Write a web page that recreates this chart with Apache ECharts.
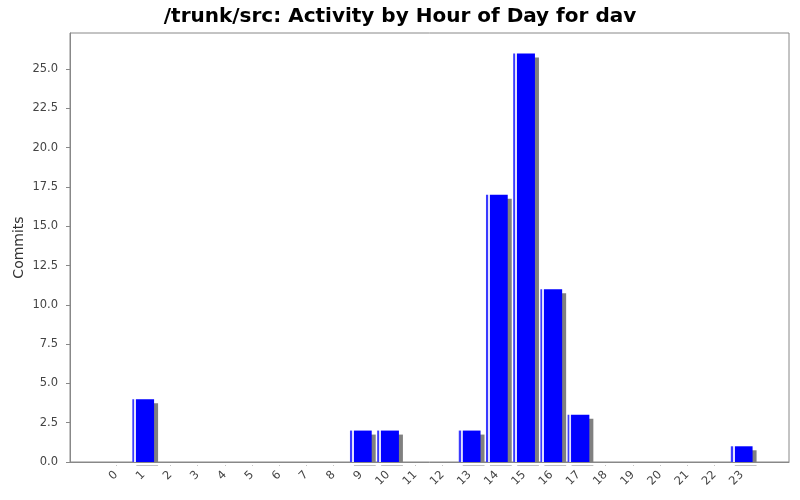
<!DOCTYPE html>
<html><head><meta charset="utf-8">
<script src="https://cdn.jsdelivr.net/npm/echarts@6/dist/echarts.min.js"></script>
<style>html,body{margin:0;padding:0;background:#fff}#c{width:800px;height:500px}</style>
</head><body><div id="c"></div>
<script>
const titleText = '/trunk/src: Activity by Hour of Day for dav';
const hours = ['0','1','2','3','4','5','6','7','8','9','10','11','12','13','14','15','16','17','18','19','20','21','22','23'];
const commits = [0,4,0,0,0,0,0,0,0,2,2,0,0,2,17,26,11,3,0,0,0,0,0,1];
const yTicks = [0,2.5,5,7.5,10,12.5,15,17.5,20,22.5,25];
const yMax = 27.3;

const chart = echarts.init(document.getElementById('c'), null, {renderer:'canvas'});
const axisGray = '#888888';
const labelColor = '#444444';
chart.setOption({
  animation:false,
  backgroundColor:'#ffffff',
  title:{text:titleText,left:'center',top:2,textStyle:{fontFamily:'DejaVu Sans',fontWeight:'bold',fontSize:20,color:'#000'}},
  grid:[
    {left:70,right:11,top:33,bottom:38,show:true,borderColor:axisGray,borderWidth:1,backgroundColor:'transparent',outerBoundsMode:'none'},
    {left:102.4,right:44.7,top:33,bottom:38,outerBoundsMode:'none'}
  ],
  graphic:{elements:[{type:'rect',z:100,zlevel:0,silent:true,shape:{x:71,y:462.7,width:717,height:2.7},style:{fill:'#ffffff'}}]},
  xAxis:[
    {type:'value',gridIndex:0,min:0,max:1,offset:4,position:'bottom',z:200,
     axisLine:{show:true,lineStyle:{color:axisGray}},axisTick:{show:false},axisLabel:{show:false},splitLine:{show:false}},
    {type:'category',gridIndex:1,data:hours,offset:4,position:'bottom',
     axisLine:{show:false},axisTick:{show:true,alignWithLabel:true,length:4,lineStyle:{color:axisGray}},
     axisLabel:{rotate:45,interval:0,margin:7,fontFamily:'DejaVu Sans',fontSize:11.5,color:labelColor},splitLine:{show:false}}
  ],
  yAxis:[
    {type:'value',gridIndex:0,min:0,max:yMax,offset:4,
     axisLine:{show:true,lineStyle:{color:axisGray}},
     axisTick:{show:true,length:4,customValues:yTicks,lineStyle:{color:axisGray}},
     axisLabel:{customValues:yTicks,margin:8,fontFamily:'DejaVu Sans',fontSize:11.5,color:labelColor,formatter:v=>v.toFixed(1)},
     splitLine:{show:false}},
    {type:'value',gridIndex:1,min:0,max:yMax,
     name:'Commits',nameLocation:'middle',nameGap:76,nameRotate:90,
     nameTextStyle:{fontFamily:'DejaVu Sans',fontSize:14,color:'#333'},
     axisLine:{show:false},axisTick:{show:false},axisLabel:{show:false},splitLine:{show:false}}
  ],
  series:[{
    type:'bar',xAxisIndex:1,yAxisIndex:1,data:commits,barCategoryGap:'20%',
    itemStyle:{
      color:new echarts.graphic.LinearGradient(0,0,1,0,[
        {offset:0,color:'#3a3aff'},{offset:0.08,color:'#3a3aff'},
        {offset:0.09,color:'#e0e0ff'},{offset:0.17,color:'#e0e0ff'},
        {offset:0.18,color:'#0000ff'},{offset:1,color:'#0000ff'}]),
      shadowColor:'#808080',shadowOffsetX:4,shadowOffsetY:4,shadowBlur:0
    }
  }]
});
</script></body></html>
